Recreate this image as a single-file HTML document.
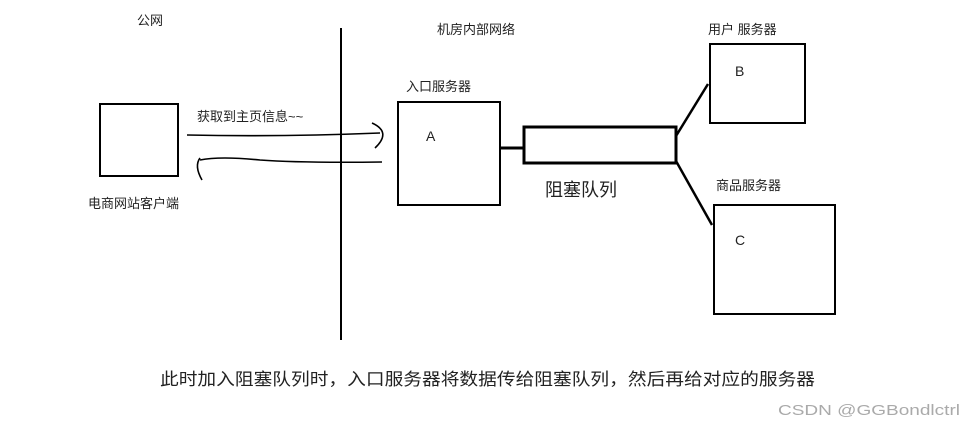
<!DOCTYPE html>
<html><head><meta charset="utf-8"><style>
body{margin:0;background:#fff;width:977px;height:427px;overflow:hidden}
svg text{font-family:"Liberation Sans","Noto Sans CJK SC",sans-serif;fill:#222}
</style></head><body>
<svg width="977" height="427" viewBox="0 0 977 427" xmlns="http://www.w3.org/2000/svg">
<g fill="none" stroke="#000" stroke-width="2">
<rect x="100" y="104" width="78" height="72"/>
<line x1="341" y1="28" x2="341" y2="340"/>
<rect x="398" y="102" width="102" height="103"/>
<rect x="524" y="127" width="152" height="36" stroke-width="3"/>
<line x1="500" y1="148" x2="524" y2="148" stroke-width="3"/>
<rect x="710" y="44" width="95" height="79"/>
<rect x="714" y="205" width="121" height="109"/>
<line x1="676" y1="136" x2="708" y2="84" stroke-width="2.5"/>
<line x1="676" y1="161" x2="712" y2="225" stroke-width="2.5"/>
</g>
<g fill="none" stroke="#000" stroke-width="1.6">
<path d="M187 135 Q280 137 380 133"/>
<path d="M372 123 Q392 132 375 148"/>
<path d="M382 162 Q300 163 260 160 Q220 156 200 160"/>
<path d="M200 158 Q194 166 202 180"/>
</g>
<text x="137" y="25" font-size="13">公网</text>
<text x="437" y="34" font-size="13">机房内部网络</text>
<text x="406" y="91" font-size="13">入口服务器</text>
<text x="197" y="121" font-size="13">获取到主页信息~~</text>
<text x="88" y="208" font-size="13">电商网站客户端</text>
<text x="426" y="141" font-size="14">A</text>
<text x="708" y="34" font-size="13">用户 服务器</text>
<text x="735" y="76" font-size="14">B</text>
<text x="716" y="190" font-size="13">商品服务器</text>
<text x="735" y="245" font-size="14">C</text>
<text x="545" y="196" font-size="18">阻塞队列</text>
<text x="160" y="385" font-size="17" textLength="655" lengthAdjust="spacingAndGlyphs">此时加入阻塞队列时，入口服务器将数据传给阻塞队列，然后再给对应的服务器</text>
<text x="778" y="415" font-size="15" textLength="182" lengthAdjust="spacingAndGlyphs" style="fill:#aaa">CSDN @GGBondlctrl</text>
</svg>
</body></html>
